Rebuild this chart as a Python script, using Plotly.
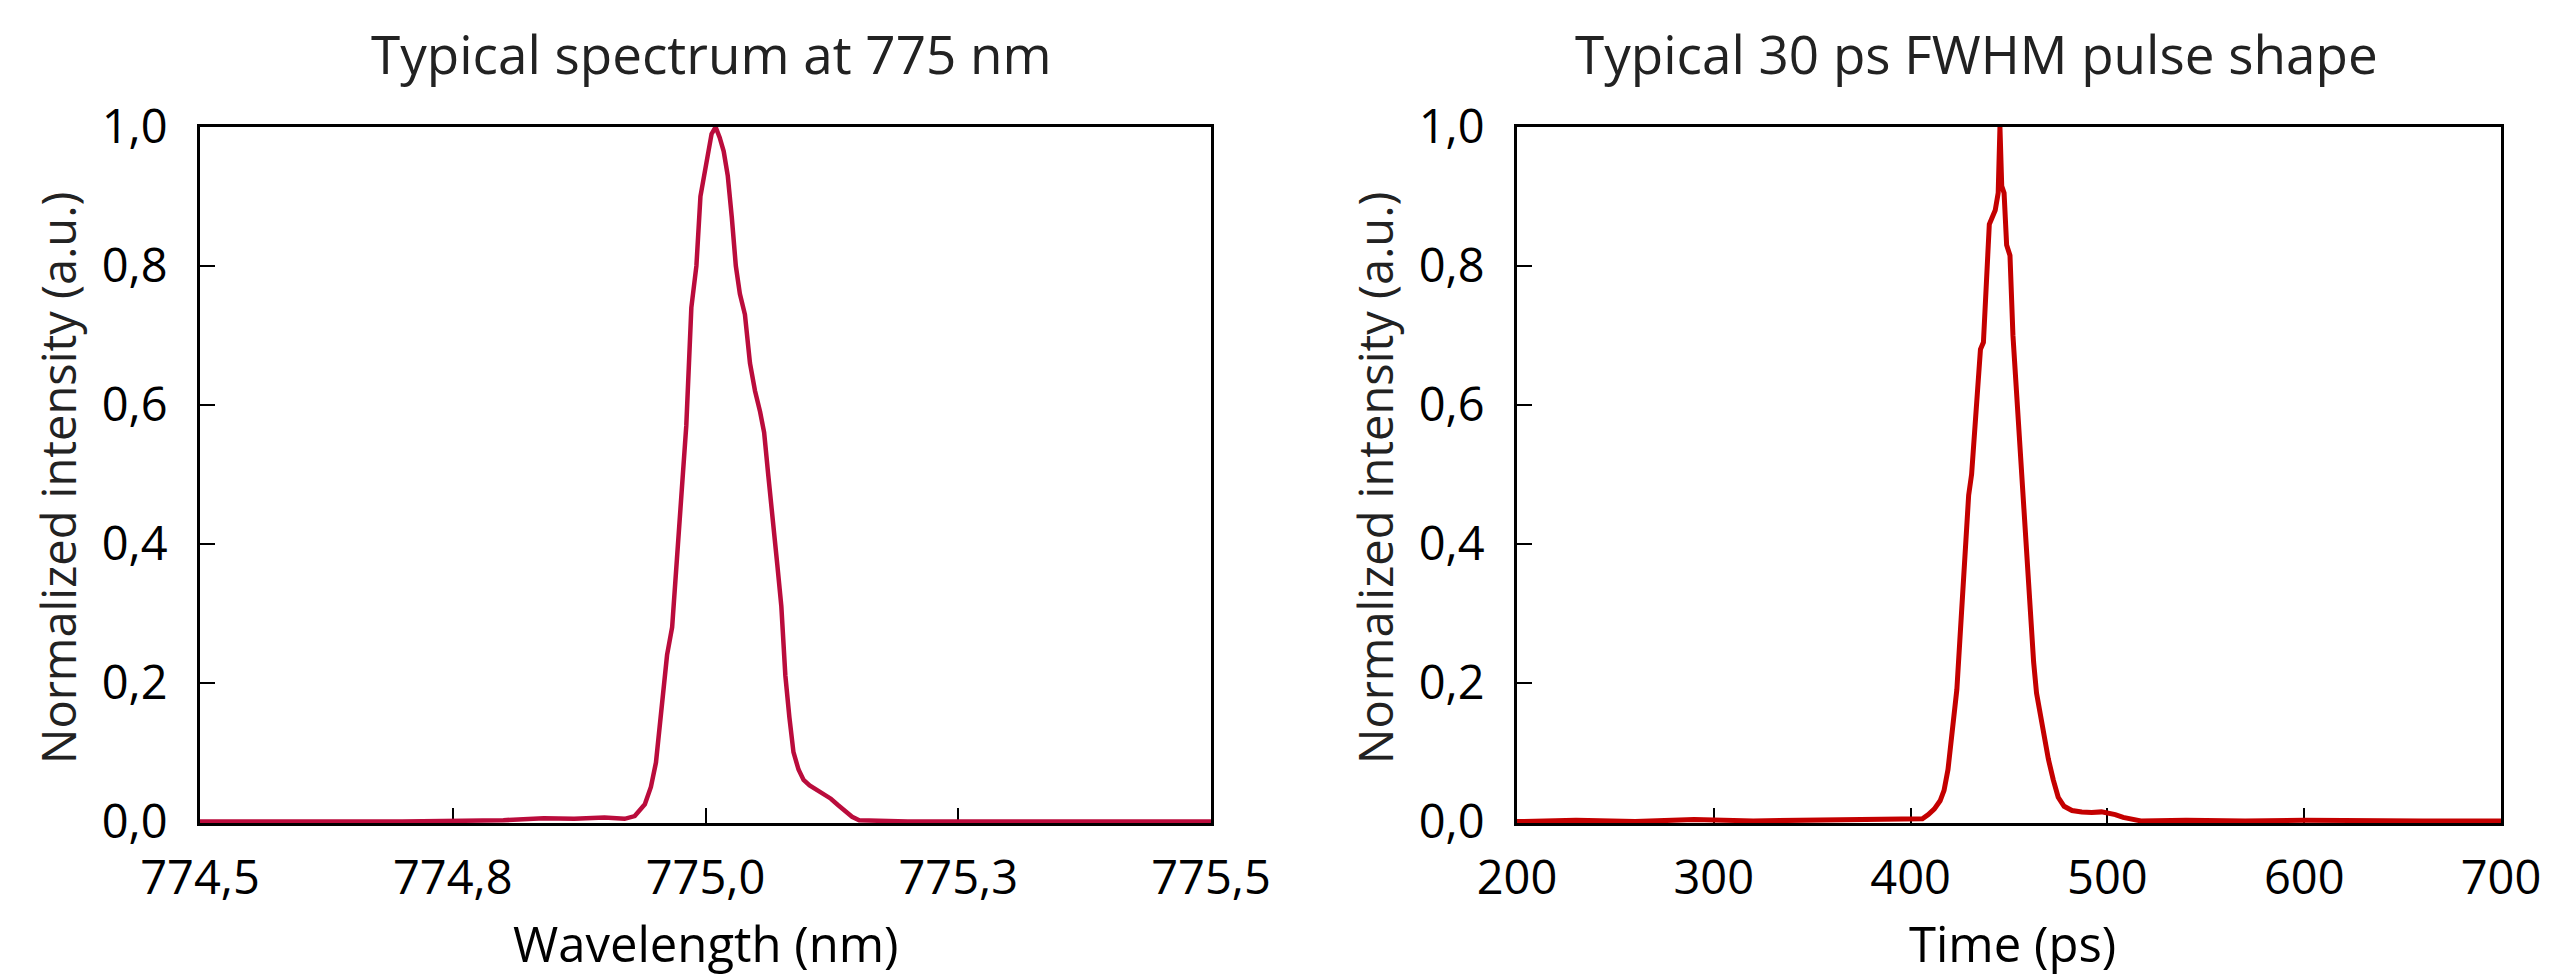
import plotly.graph_objects as go

# spectrum
wl_nm = [774.50, 774.60, 774.70, 774.80, 774.84, 774.87, 774.90, 774.92, 774.93,
         774.940, 774.946, 774.951, 774.956, 774.962, 774.967, 774.973, 774.977,
         774.981, 774.986, 774.991, 774.995, 775.001, 775.006, 775.010, 775.014,
         775.018, 775.022, 775.026, 775.030, 775.034, 775.039, 775.044, 775.049,
         775.054, 775.058, 775.062, 775.067, 775.071, 775.075, 775.079, 775.083,
         775.087, 775.092, 775.097, 775.103, 775.110, 775.117, 775.124, 775.131,
         775.138, 775.145, 775.152, 775.20, 775.30, 775.40, 775.50]
spec_int = [0.0, 0.0, 0.0, 0.002, 0.005, 0.004, 0.006, 0.004, 0.008,
            0.025, 0.05, 0.085, 0.15, 0.24, 0.28, 0.40, 0.47,
            0.57, 0.74, 0.80, 0.90, 0.95, 0.99, 1.0, 0.985,
            0.965, 0.93, 0.87, 0.80, 0.76, 0.73, 0.66, 0.62,
            0.59, 0.56, 0.50, 0.42, 0.37, 0.31, 0.21, 0.15,
            0.10, 0.075, 0.06, 0.052, 0.046, 0.040, 0.033, 0.024,
            0.015, 0.007, 0.002, 0.0, 0.0, 0.0, 0.0]

# pulse
time_ps = [200, 230, 260, 290, 320, 350, 380, 400, 406, 409, 412, 415, 417, 419,
           420.5, 422, 423.5, 425, 426.5, 428, 429.5, 431, 432.5, 434, 435.5,
           437, 438.5, 440, 441.5, 443, 444.5, 445.4, 446.3, 447.5, 448.8, 450.5,
           452, 453.5, 455, 456.5, 458, 459.5, 461, 462.5, 464, 466, 468, 470,
           472.5, 475, 478, 482, 487, 492, 497, 500, 504, 508, 512, 517, 540,
           570, 600, 630, 660, 700]
pulse_int = [0.0, 0.002, 0.0, 0.003, 0.001, 0.002, 0.002, 0.002, 0.004, 0.010, 0.018,
             0.030, 0.045, 0.075, 0.11, 0.15, 0.19, 0.26, 0.33, 0.40, 0.47,
             0.50, 0.56, 0.64, 0.68, 0.69, 0.77, 0.86, 0.87, 0.88, 0.905, 1.0,
             0.915, 0.905, 0.83, 0.815, 0.70, 0.63, 0.56, 0.50, 0.42, 0.35, 0.28,
             0.23, 0.185, 0.15, 0.12, 0.09, 0.06, 0.035, 0.022, 0.016, 0.014,
             0.013, 0.014, 0.013, 0.010, 0.006, 0.003, 0.001, 0.002, 0.001,
             0.002, 0.001, 0.001, 0.001]

wl_ticks = [774.5, 774.75, 775.0, 775.25, 775.5]
wl_labels = ["774,5", "774,8", "775,0", "775,3", "775,5"]
t_ticks = [200, 300, 400, 500, 600, 700]
y_ticks = [0, 0.2, 0.4, 0.6, 0.8, 1.0]

FONT = "Open Sans"
W, H = 2560, 979
OFF = 8  # the page body margin shifts the figure by 8 px


def px_x(p):
    return (p - OFF) / W


def px_y(p):
    return (H - (p - OFF)) / H


fig = go.Figure()
fig.add_trace(go.Scatter(x=wl_nm, y=spec_int, mode="lines",
                         line=dict(color="#BA0C3C", width=4.5),
                         xaxis="x", yaxis="y", showlegend=False))
fig.add_trace(go.Scatter(x=time_ps, y=pulse_int, mode="lines",
                         line=dict(color="#C40000", width=5),
                         xaxis="x2", yaxis="y2", showlegend=False))

axis_common = dict(showline=True, linecolor="black", linewidth=3, mirror=True,
                   ticks="inside", ticklen=15, tickwidth=2, tickcolor="black",
                   showgrid=False, zeroline=False, layer="below traces",
                   automargin=False,
                   tickfont=dict(family=FONT, size=47, color="black"))
ydom = [px_y(823), px_y(127)]

fig.update_layout(
    width=W, height=H,
    template="none",
    separators=", ",
    plot_bgcolor="white", paper_bgcolor="white",
    margin=dict(l=0, r=0, t=0, b=0),
    xaxis=dict(domain=[px_x(200), px_x(1211)], range=[774.5, 775.5],
               tickvals=wl_ticks, ticktext=wl_labels, ticklabelstandoff=12,
               anchor="y", **axis_common),
    yaxis=dict(domain=ydom, range=[-0.002, 1.0], tickvals=y_ticks,
               tickformat=".1f", ticklabelstandoff=20, anchor="x", **axis_common),
    xaxis2=dict(domain=[px_x(1517), px_x(2501)], range=[200, 700],
                tickvals=t_ticks, ticklabelstandoff=12, anchor="y2", **axis_common),
    yaxis2=dict(domain=ydom, range=[-0.002, 1.0], tickvals=y_ticks,
                tickformat=".1f", ticklabelstandoff=20, anchor="x2", **axis_common),
)

texts = [
    ("Typical spectrum at 775 nm", 711, 54, 0, 53, "#222222"),
    ("Typical 30 ps FWHM pulse shape", 1976, 54, 0, 53, "#222222"),
    ("Wavelength (nm)", 706, 943, 0, 49, "black"),
    ("Time (ps)", 2012, 943, 0, 49, "black"),
    ("Normalized intensity (a.u.)", 58, 478, -90, 47, "#222222"),
    ("Normalized intensity (a.u.)", 1375, 478, -90, 47, "#222222"),
]
for txt, px, py, ang, size, col in texts:
    fig.add_annotation(text=txt, x=px_x(px), y=px_y(py), xref="paper", yref="paper",
                       xanchor="center", yanchor="middle", textangle=ang,
                       showarrow=False, font=dict(family=FONT, size=size, color=col))

fig.write_html("out.html")
